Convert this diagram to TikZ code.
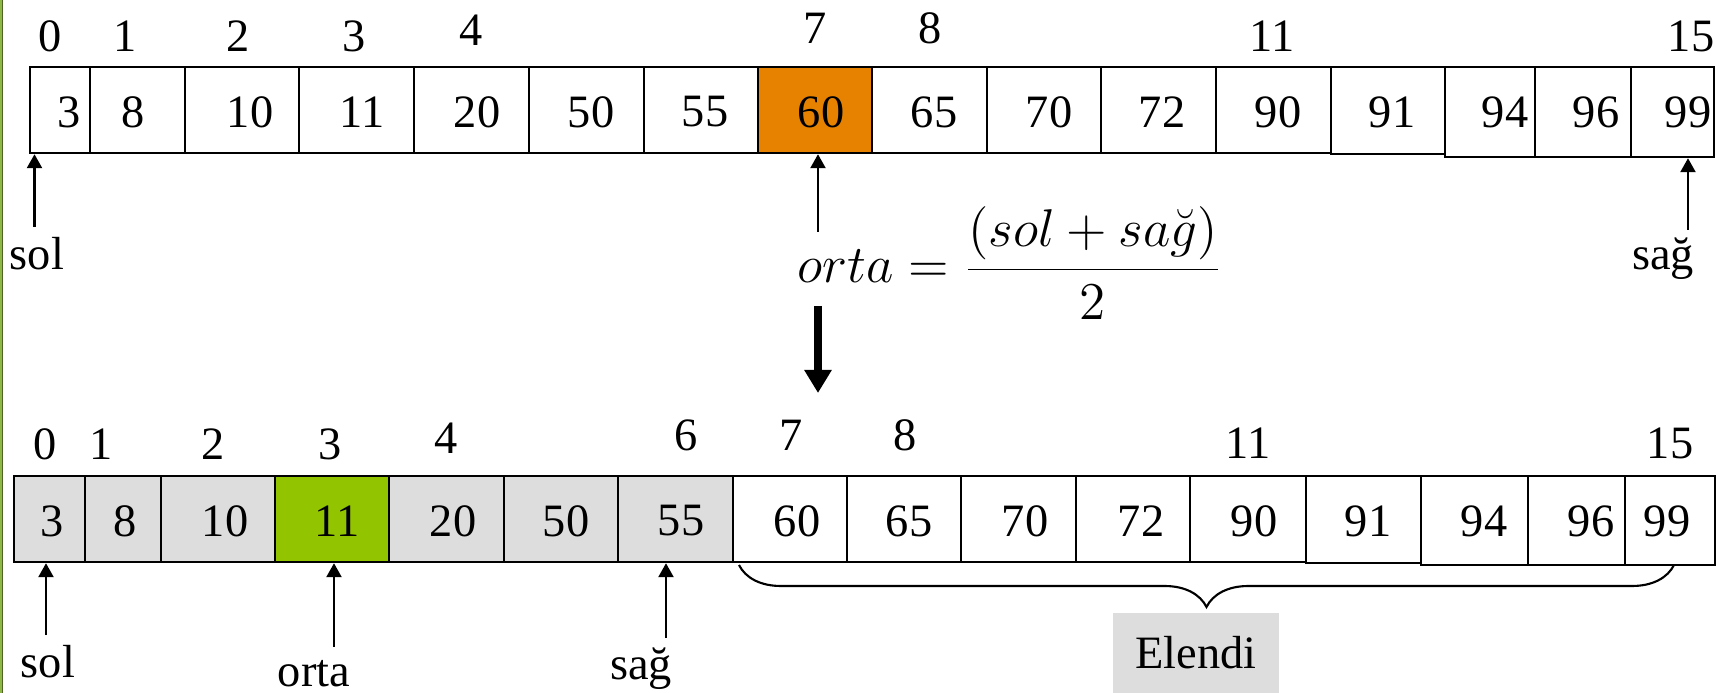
\documentclass[tikz,border=0pt]{standalone}
\usepackage{fontspec}
\setmainfont{Liberation Serif}
\usetikzlibrary{arrows.meta,decorations.pathreplacing}

\definecolor{midorange}{HTML}{E68200}
\definecolor{midgreen}{HTML}{92C400}
\definecolor{shade}{HTML}{DDDDDD}
\definecolor{edgegreen}{HTML}{8DB846}
\definecolor{edgedark}{HTML}{4E6424}

\tikzset{
    cell/.style={draw, line width=0.7pt, inner sep=0pt},
    num/.style={inner sep=0pt},
    ptr/.style={line width=0.7pt, -{Triangle[width=1.5mm,length=1.4mm]}},
    bigptr/.style={line width=2.3pt, -{Triangle[width=2.6mm,length=2.3mm]}},
}

\begin{document}
\begin{tikzpicture}[x=1cm, y=-1cm, font=\fontsize{13.2}{15}\selectfont]
    \useasboundingbox (0,0) rectangle (17.25,6.93);
    \fill[edgegreen] (0,0) rectangle (0.02,6.93);
    \fill[edgedark] (0.02,0) rectangle (0.03,6.93);

    % first pass
    \foreach \i/\xl/\xr/\yb/\f/\v/\vx in {
        0/0.30/0.90/1.53/white/3/0.69, 1/0.90/1.85/1.53/white/8/1.33,
        2/1.85/2.99/1.53/white/10/2.50, 3/2.99/4.14/1.53/white/11/3.62,
        4/4.14/5.29/1.53/white/20/4.77, 5/5.29/6.44/1.53/white/50/5.91,
        6/6.44/7.58/1.53/white/55/7.05, 7/7.58/8.72/1.53/midorange/60/8.21,
        8/8.72/9.87/1.53/white/65/9.34, 9/9.87/11.01/1.53/white/70/10.49,
        10/11.01/12.16/1.53/white/72/11.62, 11/12.16/13.31/1.53/white/90/12.78,
        12/13.31/14.45/1.54/white/91/13.92, 13/14.45/15.35/1.57/white/94/15.05,
        14/15.35/16.31/1.57/white/96/15.96, 15/16.31/17.14/1.57/white/99/16.88} {
        \node[cell, fill=\f, minimum width={(\xr-\xl)*1cm}, minimum height={(\yb-0.67)*1cm}]
            (a\i) at ({(\xl+\xr)/2},{(0.67+\yb)/2}) {};
        \node[num] (va\i) at (\vx,1.12) {\v};
    }
    \foreach \n/\x/\y in {0/0.50/0.36, 1/1.25/0.36, 2/2.38/0.36, 3/3.54/0.36, 4/4.71/0.30,
        7/8.15/0.28, 8/9.30/0.28, 11/12.72/0.36, 15/16.91/0.36}
        \node[num] (ia\n) at (\x,\y) {\n};

    \node[anchor=base] (sol1) at (0.37,2.70) {sol};
    \node[anchor=base] (sag1) at (16.63,2.70) {sağ};
    \node[scale=1.05, transform shape] (formula) at (10.10,2.63)
        {\fontsize{14.4}{17}\selectfont $\displaystyle orta=\frac{(sol+sa\breve{g})}{2}$};

    \coordinate (p1) at (0.345,2.27);
    \coordinate (p2) at (8.18,2.32);
    \coordinate (p3) at (16.88,2.30);
    \draw[ptr] (p1) -- (p1 |- a0.south);
    \draw[ptr] (p2) -- (p2 |- a7.south);
    \draw[ptr] (p3) -- (p3 |- a15.south);

    \coordinate (d1) at (8.18,3.06);
    \coordinate (d2) at (8.18,3.93);
    \draw[bigptr] (d1) -- (d2);

    % second pass
    \foreach \i/\xl/\xr/\yb/\f/\v/\vx in {
        0/0.14/0.85/5.62/shade/3/0.52, 1/0.85/1.61/5.62/shade/8/1.25,
        2/1.61/2.75/5.62/shade/10/2.25, 3/2.75/3.89/5.62/midgreen/11/3.37,
        4/3.89/5.04/5.62/shade/20/4.53, 5/5.04/6.18/5.62/shade/50/5.66,
        6/6.18/7.33/5.62/shade/55/6.81, 7/7.33/8.47/5.62/white/60/7.97,
        8/8.47/9.61/5.62/white/65/9.09, 9/9.61/10.76/5.62/white/70/10.25,
        10/10.76/11.90/5.62/white/72/11.41, 11/11.90/13.06/5.62/white/90/12.54,
        12/13.06/14.21/5.63/white/91/13.68, 13/14.21/15.28/5.65/white/94/14.84,
        14/15.28/16.25/5.65/white/96/15.91, 15/16.25/17.15/5.65/white/99/16.67} {
        \node[cell, fill=\f, minimum width={(\xr-\xl)*1cm}, minimum height={(\yb-4.76)*1cm}]
            (b\i) at ({(\xl+\xr)/2},{(4.76+\yb)/2}) {};
        \node[num] (vb\i) at (\vx,5.21) {\v};
    }
    \foreach \n/\x/\y in {0/0.45/4.44, 1/1.01/4.44, 2/2.13/4.44, 3/3.30/4.44, 4/4.46/4.38,
        6/6.86/4.35, 7/7.91/4.35, 8/9.05/4.35, 11/12.48/4.43, 15/16.70/4.43}
        \node[num] (ib\n) at (\x,\y) {\n};

    \node[anchor=base] (sol2) at (0.48,6.78) {sol};
    \node[anchor=base] (orta2) at (3.14,6.87) {orta};
    \node[anchor=base] (sag2) at (6.41,6.80) {sağ};

    \coordinate (q1) at (0.46,6.35);
    \coordinate (q2) at (3.34,6.47);
    \coordinate (q3) at (6.66,6.38);
    \draw[ptr] (q1) -- (q1 |- b0.south);
    \draw[ptr] (q2) -- (q2 |- b3.south);
    \draw[ptr] (q3) -- (q3 |- b6.south);

    \coordinate (brl) at (7.39,5.65);
    \coordinate (brr) at (16.74,5.65);
    \draw[line width=0.6pt, decorate, decoration={brace, amplitude=4.2mm, mirror}] (brl) -- (brr);
    \node[fill=shade, minimum width=1.66cm, minimum height=0.80cm] (elendi) at (11.96,6.53) {Elendi};
\end{tikzpicture}
\end{document}
